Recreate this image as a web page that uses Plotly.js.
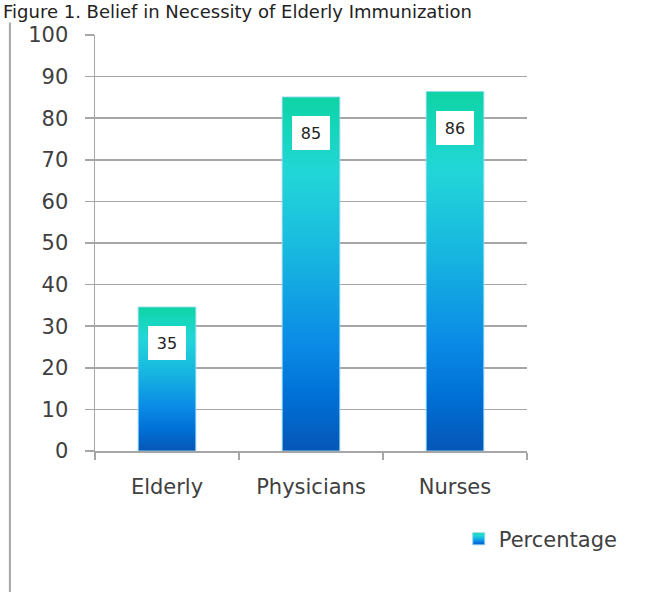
<!DOCTYPE html>
<html>
<head>
<meta charset="utf-8">
<script src="https://cdn.plot.ly/plotly-3.0.1.min.js"></script>
<style>
  html, body { margin: 0; padding: 0; background: #fff; }
  #chart { width: 670px; height: 592px; }
</style>
</head>
<body>
<div id="chart"></div>
<script>
// ---- data ----
const categories = ['Elderly', 'Physicians', 'Nurses'];
const percentage = [34.6, 85.1, 86.4];
const seriesName = 'Percentage';
const yTickValues = [0, 10, 20, 30, 40, 50, 60, 70, 80, 90, 100];
const titleText = 'Figure 1. Belief in Necessity of Elderly Immunization';

const FONT = 'DejaVu Sans, sans-serif';
const TEXT = '#404040';
const GRID = '#a6a6a6';

const trace = {
  type: 'bar',
  x: categories,
  y: percentage,
  name: seriesName,
  marker: { color: '#16b8e0', line: { color: 'rgba(140,215,240,0.9)', width: 1 } },
  hoverinfo: 'x+y'
};

const labels = categories.map((c, i) => ({
  x: c, y: percentage[i], xref: 'x', yref: 'y',
  text: String(Math.round(percentage[i])),
  showarrow: false, yanchor: 'top', xanchor: 'center', yshift: -19,
  bgcolor: '#ffffff', width: 38, height: 34, borderpad: 0, borderwidth: 0,
  font: { family: FONT, size: 16, color: '#222' }
}));

const layout = {
  width: 670, height: 592,
  margin: { l: 95, r: 143, t: 35, b: 141, pad: 0 },
  paper_bgcolor: '#ffffff', plot_bgcolor: '#ffffff',
  font: { family: FONT, size: 21, color: TEXT },
  title: {
    text: titleText, font: { family: FONT, size: 18, color: '#222' },
    xref: 'container', x: 0, xanchor: 'left',
    yref: 'container', y: 1, yanchor: 'top', pad: { t: 5, l: 3 }
  },
  bargap: 0.6,
  showlegend: true,
  legend: {
    x: 0.842, xanchor: 'left', y: -0.212, yanchor: 'middle',
    font: { family: FONT, size: 21, color: TEXT },
    bgcolor: 'rgba(0,0,0,0)'
  },
  xaxis: {
    type: 'category', tickson: 'boundaries', ticks: 'outside', ticklen: 7,
    tickcolor: GRID, tickwidth: 1.5, showline: true, linecolor: GRID, linewidth: 1.5,
    showgrid: false, zeroline: false,
    tickfont: { family: FONT, size: 21, color: TEXT },
    ticklabelstandoff: 16
  },
  yaxis: {
    range: [0, 100], tickvals: yTickValues, ticks: 'outside', ticklen: 9,
    tickcolor: GRID, tickwidth: 1.5, showline: true, linecolor: GRID, linewidth: 1.5,
    showgrid: true, gridcolor: GRID, gridwidth: 1.5, zeroline: false,
    tickfont: { family: FONT, size: 21, color: TEXT },
    ticklabelstandoff: 12
  },
  annotations: labels,
  shapes: [{
    type: 'line', xref: 'paper', yref: 'paper',
    x0: -0.197, x1: -0.197, y0: 1.03, y1: -0.4,
    line: { color: '#a6a6a6', width: 2 }
  }]
};

function applyGradient(gd) {
  const svgs = gd.querySelectorAll('svg.main-svg');
  const svg = svgs[0];
  let defs = svg.querySelector('defs');
  if (!defs) { defs = document.createElementNS('http://www.w3.org/2000/svg', 'defs'); svg.insertBefore(defs, svg.firstChild); }
  if (!svg.querySelector('#barGrad')) {
    const ns = 'http://www.w3.org/2000/svg';
    const g = document.createElementNS(ns, 'linearGradient');
    g.setAttribute('id', 'barGrad');
    g.setAttribute('x1', '0'); g.setAttribute('y1', '0');
    g.setAttribute('x2', '0'); g.setAttribute('y2', '1');
    const stops = [
      [0, '#0fd3a5'], [0.08, '#14d6b8'], [0.22, '#22d6d8'],
      [0.45, '#17b6e0'], [0.70, '#0a8ae6'], [0.85, '#0070d6'], [1, '#0656b6']
    ];
    stops.forEach(([o, c]) => {
      const s = document.createElementNS(ns, 'stop');
      s.setAttribute('offset', o); s.setAttribute('stop-color', c);
      g.appendChild(s);
    });
    defs.appendChild(g);
  }
  gd.querySelectorAll('svg .barlayer .point path').forEach(p => { p.style.fill = 'url(#barGrad)'; });
  gd.querySelectorAll('svg .legend .legendpoints path').forEach(p => { p.style.fill = 'url(#barGrad)'; });
}

const gd = document.getElementById('chart');
Plotly.newPlot(gd, [trace], layout, { displayModeBar: false, staticPlot: true }).then(() => {
  applyGradient(gd);
  gd.on('plotly_afterplot', () => applyGradient(gd));
});
</script>
</body>
</html>
